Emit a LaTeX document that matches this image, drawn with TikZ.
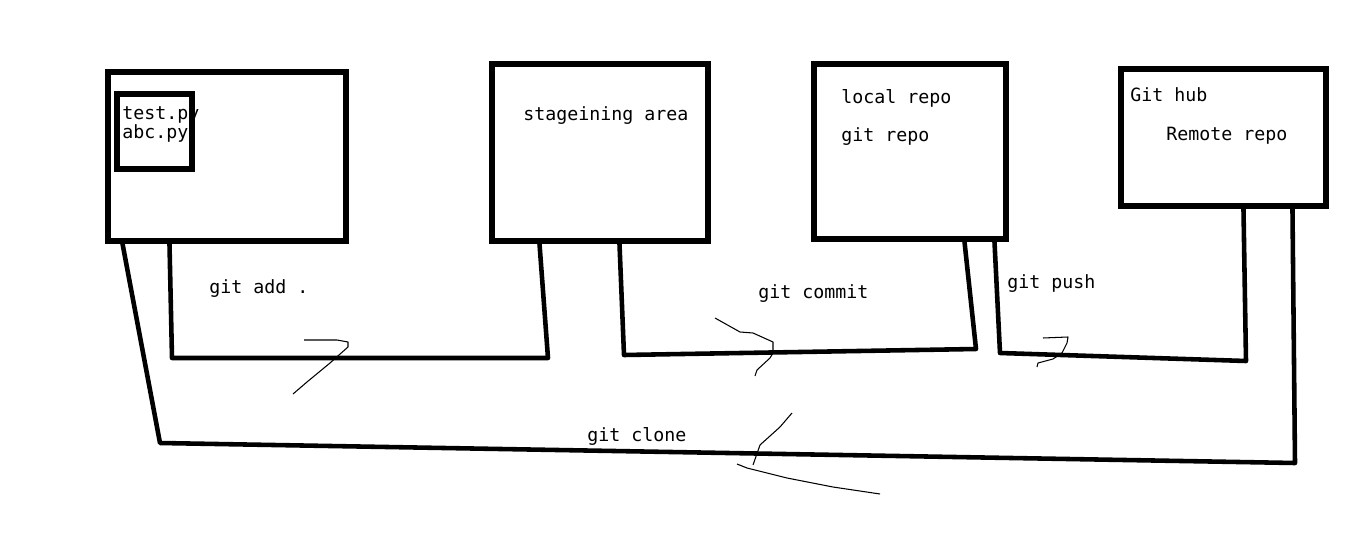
\documentclass[tikz,border=0pt]{standalone}
\usepackage{fontspec}
\setmonofont{DejaVu Sans Mono}
\usetikzlibrary{calc}

\begin{document}
\begin{tikzpicture}[
  x=0.02cm, y=-0.02cm,
  font=\ttfamily\fontsize{10.4}{12}\selectfont,
  area/.style={draw, line width=2.9pt, inner sep=0pt},
  txt/.style={anchor=base west, inner sep=0pt},
  wire/.style={line width=2.6pt, line join=round},
  scribble/.style={line width=0.6pt, line join=round}
]
\useasboundingbox (0,0) rectangle (1360,554);

% the four places
\node[area, minimum width=4.76cm, minimum height=3.38cm] (work)  at (227,156.5) {};
\node[area, minimum width=1.5cm,  minimum height=1.5cm]  (files) at (154.5,131.5) {};
\node[area, minimum width=4.32cm, minimum height=3.54cm] (stage) at (600,152.5) {};
\node[area, minimum width=3.84cm, minimum height=3.5cm]  (local) at (910,151.5) {};
\node[area, minimum width=4.1cm,  minimum height=2.74cm] (hub)   at (1223.5,137.5) {};

\node[txt] (testpy) at (122,120) {test.py};
\node[txt] (abcpy)  at (122,139) {abc.py};
\node[txt] (stagetxt) at (523,121) {stageining area};
\node[txt] (localtxt) at (841,104) {local repo};
\node[txt] (gittxt)   at (841,142) {git repo};
\node[txt] (hubtxt)   at (1130,102) {Git hub};
\node[txt] (remotetxt) at (1166,141) {Remote repo};

% commands between them
\draw[wire] ($(work.south west)+(64,0)$) -- (172,358) -- (548,358) -- ($(stage.south west)+(50,0)$);
\draw[wire] ($(stage.south west)+(130,0)$) -- (624,355) -- (976,349) -- ($(local.south west)+(153,0)$);
\draw[wire] ($(local.south west)+(183,0)$) -- (1000,353) -- (1246,361) -- ($(hub.south west)+(125,0)$);
\draw[wire] ($(work.south west)+(17,0)$) -- (160,443) -- (1295,463) -- ($(hub.south west)+(174,0)$);

\node[txt] (addlbl)    at (209,293) {git add .};
\node[txt] (commitlbl) at (758,298) {git commit};
\node[txt] (pushlbl)   at (1007,288) {git push};
\node[txt] (clonelbl)  at (587,441) {git clone};

% hand drawn marks
\draw[scribble] (304,340) -- (337,340) -- (348,342) -- (348,347) -- (330,363) -- (307,382) -- (293,394);
\draw[scribble] (715,318) -- (740,332) -- (753,333) -- (773,342) -- (773,353) -- (770,358) -- (757,370) -- (755,376);
\draw[scribble] (1043,338) -- (1068,337) -- (1067,343) -- (1062,353) -- (1053,359) -- (1038,363) -- (1037,367);
\draw[scribble] (792,413) -- (780,427) -- (760,445) -- (753,465);
\draw[scribble] (737,464) -- (747,468) -- (787,478) -- (833,487) -- (880,494);
\end{tikzpicture}
\end{document}
